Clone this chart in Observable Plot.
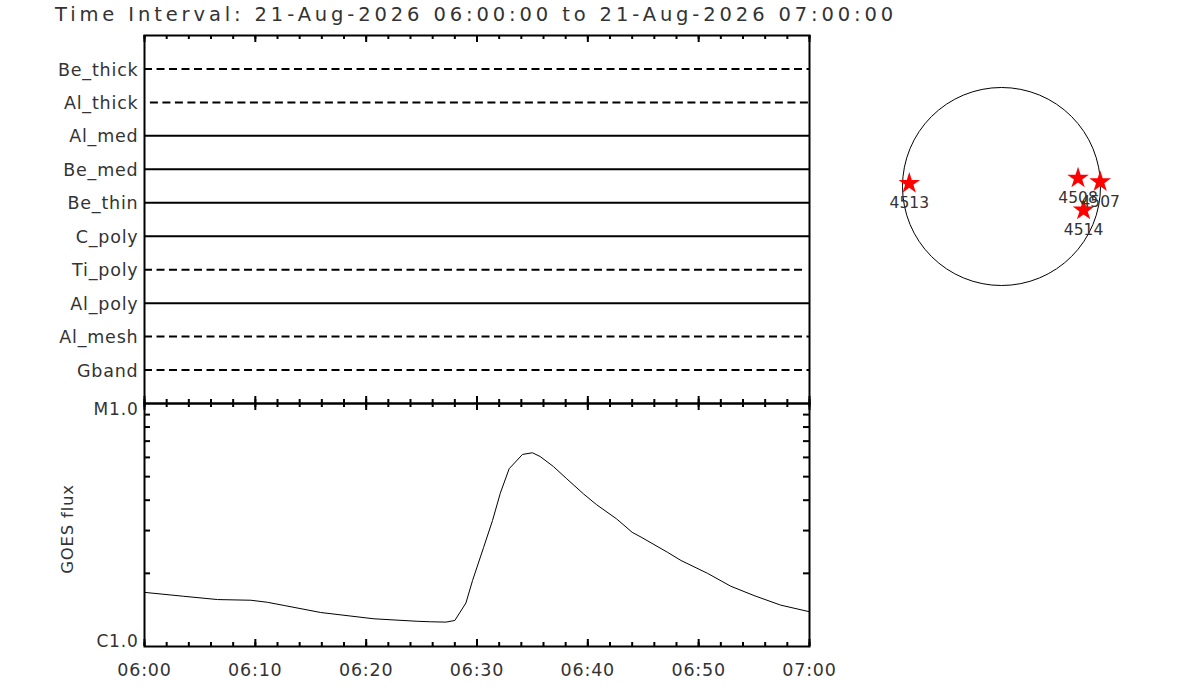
<!DOCTYPE html>
<html lang="en">
<head>
<meta charset="UTF-8">
<title>Filter coverage and GOES flux</title>
<script src="https://cdn.jsdelivr.net/npm/d3@7"></script>
<script src="https://cdn.jsdelivr.net/npm/@observablehq/plot@0.6"></script>
<style>
  body { margin: 0; background: white; }
  #chart { position: relative; width: 1200px; height: 700px; overflow: hidden;
           font-family: "DejaVu Sans", "Liberation Sans", sans-serif; color: #333; }
  #chart > div { position: absolute; }
  #title { left: 55px; top: 5px; font-size: 19.5px; line-height: 1; white-space: nowrap; }
</style>
</head>
<body>
<div id="chart">
  <div id="title">Time Interval: 21-Aug-2026 06:00:00 to 21-Aug-2026 07:00:00</div>
  <div id="filters" style="left:0;top:0"></div>
  <div id="goes" style="left:0;top:395px"></div>
  <div id="disk" style="left:881px;top:66px"></div>
</div>
<script>
// --- data ---
const day = "2026-08-21";
const tStart = "06:00:00";
const tEnd = "07:00:00";

// filter channels, top to bottom
const channels = ["Be_thick", "Al_thick", "Al_med", "Be_med", "Be_thin", "C_poly", "Ti_poly", "Al_poly", "Al_mesh", "Gband"];
const channelDashed = [true, true, false, false, false, false, true, false, true, true];
const channelStart = ["06:00:00", "06:00:32", "06:00:00", "06:00:00", "06:00:00", "06:00:00", "06:00:00", "06:00:00", "06:00:00", "06:00:00"];
const channelEnd = ["07:00:00", "07:00:00", "07:00:00", "07:00:00", "07:00:00", "07:00:00", "06:59:33", "07:00:00", "07:00:00", "07:00:00"];

// GOES soft x-ray flux (W/m^2)
const goesTime = ["06:00:00", "06:03:30", "06:06:36", "06:09:36", "06:11:06", "06:12:36", "06:15:54", "06:20:42",
  "06:24:36", "06:25:48", "06:27:12", "06:28:00", "06:29:00", "06:29:36", "06:30:36", "06:31:24", "06:32:06",
  "06:32:54", "06:34:06", "06:35:00", "06:35:42", "06:36:54", "06:38:06", "06:39:36", "06:40:48", "06:42:36",
  "06:44:00", "06:44:48", "06:47:12", "06:48:24", "06:50:48", "06:52:54", "06:55:00", "06:57:24", "07:00:00"];
const goesFlux = [1.67e-6, 1.61e-6, 1.56e-6, 1.55e-6, 1.52e-6, 1.475e-6, 1.38e-6, 1.30e-6,
  1.27e-6, 1.264e-6, 1.26e-6, 1.28e-6, 1.51e-6, 1.87e-6, 2.56e-6, 3.30e-6, 4.27e-6,
  5.39e-6, 6.17e-6, 6.27e-6, 6.05e-6, 5.50e-6, 4.90e-6, 4.25e-6, 3.83e-6, 3.35e-6,
  2.95e-6, 2.82e-6, 2.44e-6, 2.26e-6, 2.00e-6, 1.77e-6, 1.62e-6, 1.48e-6, 1.39e-6];
const fluxMinorTicks = [2e-6, 3e-6, 4e-6, 5e-6, 6e-6, 7e-6, 8e-6, 9e-6];
const fluxLabelValue = [1e-5, 1e-6];
const fluxLabelText = ["M1.0", "C1.0"];

// active regions on the disk, helioprojective arcsec
const rsun = 948;
const regionId = ["4513", "4508", "4507", "4514"];
const regionX = [-883, 733, 945, 786];
const regionY = [29, 80, 45, -226];

// --- helpers ---
const parse = d3.utcParse("%Y-%m-%d %H:%M:%S");
const at = s => parse(`${day} ${s}`);
const xDomain = [at(tStart), at(tEnd)];
const minorTimes = d3.utcMinute.every(2).range(xDomain[0], d3.utcMinute.offset(xDomain[1], 1));
const majorTimes = d3.utcMinute.every(10).range(xDomain[0], d3.utcMinute.offset(xDomain[1], 1));
const hhmm = d3.utcFormat("%H:%M");

const panelStyle = {
  background: "transparent", overflow: "visible", color: "#333",
  fontFamily: '"DejaVu Sans", "Liberation Sans", sans-serif', fontSize: "17.5px", letterSpacing: "0.8px"
};

// short time ticks pointing into the frame from the top and bottom edges
function edgeTicks(frameH) {
  return [
    Plot.tickX(minorTimes, {insetBottom: frameH - 4, strokeWidth: 2, stroke: "black"}),
    Plot.tickX(majorTimes, {insetBottom: frameH - 7, strokeWidth: 2, stroke: "black"}),
    Plot.tickX(minorTimes, {insetTop: frameH - 4, strokeWidth: 2, stroke: "black"}),
    Plot.tickX(majorTimes, {insetTop: frameH - 7, strokeWidth: 2, stroke: "black"})
  ];
}

// --- filter coverage panel ---
const filterRows = channels.map((name, i) => ({
  name, dashed: channelDashed[i], start: at(channelStart[i]), end: at(channelEnd[i])
}));

const filters = Plot.plot({
  width: 830, height: 410,
  marginTop: 35, marginBottom: 7, marginLeft: 144, marginRight: 21,
  style: panelStyle,
  x: {type: "utc", domain: xDomain, axis: null},
  y: {type: "point", domain: channels, padding: 1, round: false, axis: null},
  marks: [
    Plot.ruleY(filterRows.filter(d => !d.dashed), {y: "name", x1: "start", x2: "end", stroke: "black", strokeWidth: 2}),
    Plot.ruleY(filterRows.filter(d => d.dashed), {y: "name", x1: "start", x2: "end", stroke: "black", strokeWidth: 2, strokeDasharray: "8,4.5"}),
    Plot.text(channels, {y: d => d, text: d => d, frameAnchor: "left", textAnchor: "end", dx: -6, dy: 1, fontSize: 17.5}),
    ...edgeTicks(368),
    Plot.frame({stroke: "black", strokeWidth: 2})
  ]
});
document.getElementById("filters").append(filters);

// --- GOES panel ---
const goesRows = goesTime.map((t, i) => ({time: at(t), flux: goesFlux[i]}));
const goesFrameW = 830 - 144 - 21;

const goes = Plot.plot({
  width: 830, height: 305,
  marginTop: 8, marginBottom: 54, marginLeft: 144, marginRight: 21,
  style: panelStyle,
  x: {type: "utc", domain: xDomain, axis: null},
  y: {type: "log", domain: [1e-6, 1e-5], axis: null},
  marks: [
    Plot.line(goesRows, {x: "time", y: "flux", stroke: "black", strokeWidth: 1, clip: true}),
    Plot.tickY(fluxMinorTicks, {insetRight: goesFrameW - 6, strokeWidth: 2, stroke: "black"}),
    Plot.tickY(fluxMinorTicks, {insetLeft: goesFrameW - 6, strokeWidth: 2, stroke: "black"}),
    ...edgeTicks(243),
    Plot.text([0], {y: () => fluxLabelValue[0], text: () => fluxLabelText[0], frameAnchor: "left", textAnchor: "end", dx: -6, dy: 6, fontSize: 17}),
    Plot.text([1], {y: () => fluxLabelValue[1], text: () => fluxLabelText[1], frameAnchor: "left", textAnchor: "end", dx: -6, dy: -5, fontSize: 17}),
    Plot.text(majorTimes, {x: d => d, text: d => hhmm(d), frameAnchor: "bottom", dy: 29, fontSize: 17.5}),
    Plot.text(["GOES flux"], {frameAnchor: "left", textAnchor: "middle", dx: -77, dy: 4, rotate: -90, fontSize: 16.5}),
    Plot.frame({stroke: "black", strokeWidth: 2})
  ]
});
document.getElementById("goes").append(goes);

// --- solar disk with region positions ---
const diskSize = 240;
const half = 1149;
const pxPerArcsec = diskSize / (2 * half);
const regions = regionId.map((id, i) => ({id, x: regionX[i], y: regionY[i]}));

const disk = Plot.plot({
  width: diskSize, height: diskSize, margin: 0,
  style: {...panelStyle, fontSize: "15.5px", letterSpacing: "0px"},
  x: {domain: [-half, half], axis: null},
  y: {domain: [-half, half], axis: null},
  marks: [
    Plot.dot([{x: 0, y: 0}], {x: "x", y: "y", r: rsun * pxPerArcsec, stroke: "black", strokeWidth: 1, fill: "none"}),
    Plot.dot(regions, {x: "x", y: "y", symbol: "star", r: 6.8, fill: "red"}),
    Plot.text(regions, {x: "x", y: "y", text: "id", dy: 20, fontSize: 15.5})
  ]
});
document.getElementById("disk").append(disk);

// stretch the title to the width it has in the picture
const title = document.getElementById("title");
const titleW = title.getBoundingClientRect().width;
title.style.letterSpacing = ((838 - titleW) / (title.textContent.length - 1)).toFixed(2) + "px";
</script>
</body>
</html>
